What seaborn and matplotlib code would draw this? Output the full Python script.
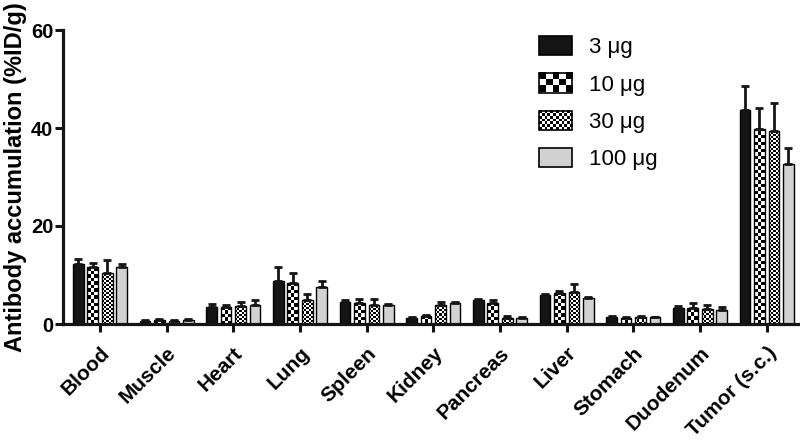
import numpy as np
import pandas as pd
import matplotlib
matplotlib.use("Agg")
import matplotlib.pyplot as plt
import seaborn as sns
from matplotlib.patches import Rectangle
from matplotlib.colors import Normalize
from matplotlib.image import BboxImage
from matplotlib.transforms import Bbox, TransformedBbox
from matplotlib.legend_handler import HandlerBase

# -------------------------------
# Data
# -------------------------------
organs = ["Blood", "Muscle", "Heart", "Lung", "Spleen", "Kidney",
          "Pancreas", "Liver", "Stomach", "Duodenum", "Tumor (s.c.)"]
doses = ["3 μg", "10 μg", "30 μg", "100 μg"]

mean_3 = [12.2, 0.7, 3.4, 8.8, 4.4, 1.3, 4.9, 5.9, 1.5, 3.2, 43.6]
mean_10 = [11.6, 0.9, 3.4, 8.3, 4.2, 1.7, 4.2, 6.4, 1.3, 3.2, 39.8]
mean_30 = [10.5, 0.7, 3.6, 4.9, 3.9, 3.8, 1.2, 6.5, 1.4, 3.0, 39.4]
mean_100 = [11.6, 0.9, 3.8, 7.5, 3.9, 4.2, 1.3, 5.4, 1.4, 2.9, 32.7]

sem_3 = [1.1, 0.1, 0.7, 2.8, 0.4, 0.1, 0.2, 0.3, 0.1, 0.5, 5.0]
sem_10 = [0.9, 0.1, 0.4, 2.2, 1.0, 0.2, 0.6, 0.3, 0.1, 1.0, 4.3]
sem_30 = [2.5, 0.1, 0.9, 1.2, 1.2, 0.7, 0.4, 1.7, 0.2, 0.9, 5.8]
sem_100 = [0.6, 0.1, 1.2, 1.2, 0.2, 0.2, 0.1, 0.1, 0.1, 0.5, 3.2]

means = [mean_3, mean_10, mean_30, mean_100]
sems = [sem_3, sem_10, sem_30, sem_100]

df = pd.DataFrame({
    "organ": np.tile(organs, len(doses)),
    "dose": np.repeat(doses, len(organs)),
    "value": np.concatenate(means),
})

palette = {"3 μg": "#151515", "10 μg": "white", "30 μg": "white", "100 μg": "#d2d2d2"}
checker_px = {"10 μg": 3.5, "30 μg": 2.0}   # square size of the checker fill
legend_grid = {"10 μg": (3, 5), "30 μg": (7, 12)}

font = ["Liberation Sans", "DejaVu Sans"]
plt.rcParams["font.family"] = font


def checker(nrows, ncols):
    return (np.indices((nrows, ncols)).sum(axis=0) % 2).astype(float)


class HandlerChecker(HandlerBase):
    def __init__(self, nrows, ncols):
        super().__init__()
        self.nrows, self.ncols = nrows, ncols

    def create_artists(self, legend, orig_handle, xdescent, ydescent,
                       width, height, fontsize, trans):
        bb = TransformedBbox(Bbox.from_bounds(-xdescent, -ydescent, width, height), trans)
        img = BboxImage(bb, cmap="gray", norm=Normalize(0, 1), interpolation="nearest")
        img.set_data(checker(self.nrows, self.ncols))
        frame = Rectangle((-xdescent, -ydescent), width, height,
                          facecolor="none", edgecolor="black", lw=1.2, transform=trans)
        return [img, frame]


# -------------------------------
# Plot
# -------------------------------
fig = plt.figure(figsize=(8, 4.42), dpi=100)
ax = fig.add_axes([63 / 800, 1 - 324 / 442, 737 / 800, 294 / 442])

sns.barplot(data=df, x="organ", y="value", hue="dose", palette=palette,
            errorbar=None, width=0.87, gap=0.26, edgecolor="black",
            linewidth=1, legend=False, ax=ax)

xlim = (-0.555, 10.5)
ylim = (0, 60)
ax.set_xlim(xlim)
ax.set_ylim(ylim)

# error bars (upper only)
for cont, sem in zip(ax.containers, sems):
    xs = [p.get_x() + p.get_width() / 2 for p in cont.patches]
    ys = [p.get_height() for p in cont.patches]
    ax.errorbar(xs, ys, yerr=[np.zeros(len(sem)), sem], fmt="none",
                ecolor="#151515", elinewidth=2, capsize=3, capthick=2, zorder=3)

# checkerboard fills
for cont, dose in zip(ax.containers, doses):
    if dose not in checker_px:
        continue
    sq = checker_px[dose]
    for p in cont.patches:
        x0, x1 = p.get_x(), p.get_x() + p.get_width()
        h = p.get_height()
        (px0, py0), (px1, py1) = ax.transData.transform([(x0, 0), (x1, h)])
        ncols = max(1, int(round(abs(px1 - px0) / sq)))
        nrows = max(1, int(round(abs(py1 - py0) / sq)))
        p.set_facecolor("none")
        p.set_zorder(2)
        im = ax.imshow(checker(nrows, ncols), cmap="gray", vmin=0, vmax=1,
                       extent=(x0, x1, 0, h), aspect="auto",
                       interpolation="nearest", zorder=1)
        im.set_clip_path(p)

ax.set_xlim(xlim)
ax.set_ylim(ylim)

# axes styling
sns.despine(ax=ax)
for side in ["left", "bottom"]:
    ax.spines[side].set_linewidth(2.3)
    ax.spines[side].set_color("#151515")

ax.set_yticks([0, 20, 40, 60])
ax.tick_params(axis="y", length=6, width=2.2, pad=1, labelsize=14.5, color="#151515")
ax.tick_params(axis="x", length=6, width=2.2, pad=8, color="#151515")
for lab in ax.get_yticklabels():
    lab.set_fontweight("bold")

ax.set_xticks(range(len(organs)))
ax.set_xticklabels(organs, rotation=45, ha="right", rotation_mode="anchor",
                   fontsize=15, fontweight="bold")

ax.set_xlabel("")
ax.set_ylabel("Antibody accumulation (%ID/g)", fontsize=17, fontweight="bold", labelpad=3)

# legend
handles = [Rectangle((0, 0), 1, 1, facecolor=palette[d], edgecolor="black", lw=1.2)
           for d in doses]
hmap = {handles[i]: HandlerChecker(*legend_grid[d])
        for i, d in enumerate(doses) if d in legend_grid}
fig.legend(handles, doses, handler_map=hmap, loc="upper left",
           bbox_to_anchor=(539 / 800, 1 - 36 / 442), frameon=False,
           fontsize=16, handlelength=1.5, handleheight=0.95,
           handletextpad=0.75, labelspacing=0.68, borderpad=0, borderaxespad=0)

fig.savefig("out.png", dpi=100)
